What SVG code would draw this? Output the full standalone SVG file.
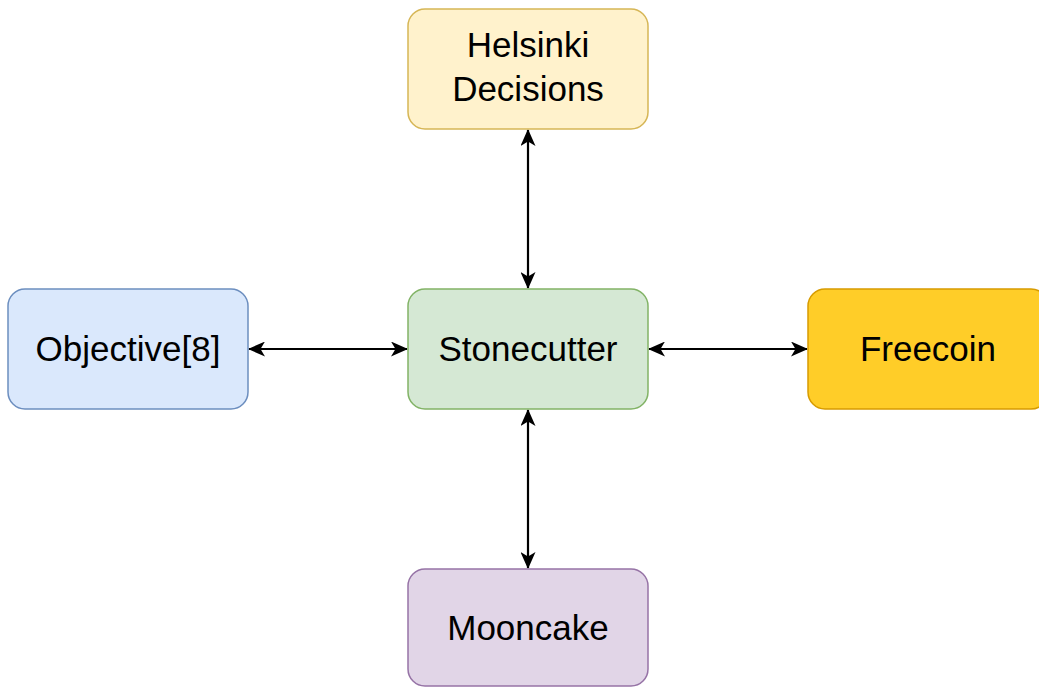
<svg xmlns="http://www.w3.org/2000/svg" width="1039" height="688" viewBox="0 0 1039 688">
  <style>
    .box { stroke-width: 1.5; }
    .lbl { font-family: "Liberation Sans", Arial, sans-serif; font-size: 35px; fill: #000; text-anchor: middle; }
    .edge { stroke: #000; stroke-width: 2.2; fill: none; marker-start: url(#arr); marker-end: url(#arr); }
  </style>
  <defs>
    <marker id="arr" viewBox="0 0 17 15" refX="16" refY="7.5" markerWidth="17" markerHeight="15" markerUnits="userSpaceOnUse" orient="auto-start-reverse">
      <path d="M0,0 L17,7.5 L0,15 L4.5,7.5 Z" fill="#000"/>
    </marker>
  </defs>
  <rect width="1039" height="688" fill="#fff"/>

  <g id="connectors">
    <line class="edge" x1="528" y1="130" x2="528" y2="288"/>
    <line class="edge" x1="249" y1="349" x2="407" y2="349"/>
    <line class="edge" x1="649" y1="349" x2="807" y2="349"/>
    <line class="edge" x1="528" y1="410" x2="528" y2="568"/>
  </g>

  <g id="helsinki">
    <rect class="box" x="408" y="9" width="240" height="120" rx="17" fill="#fff2cc" stroke="#d6b656"/>
    <text class="lbl" x="528" y="57">Helsinki</text>
    <text class="lbl" x="528" y="101">Decisions</text>
  </g>

  <g id="objective">
    <rect class="box" x="8" y="289" width="240" height="120" rx="17" fill="#dae8fc" stroke="#6c8ebf"/>
    <text class="lbl" x="128" y="361">Objective[8]</text>
  </g>

  <g id="stonecutter">
    <rect class="box" x="408" y="289" width="240" height="120" rx="17" fill="#d5e8d4" stroke="#82b366"/>
    <text class="lbl" x="528" y="361">Stonecutter</text>
  </g>

  <g id="freecoin">
    <rect class="box" x="808" y="289" width="240" height="120" rx="17" fill="#ffcd28" stroke="#d79b00"/>
    <text class="lbl" x="928" y="361">Freecoin</text>
  </g>

  <g id="mooncake">
    <rect class="box" x="408" y="569" width="240" height="117" rx="17" fill="#e1d5e7" stroke="#9673a6"/>
    <text class="lbl" x="528" y="640">Mooncake</text>
  </g>
</svg>
